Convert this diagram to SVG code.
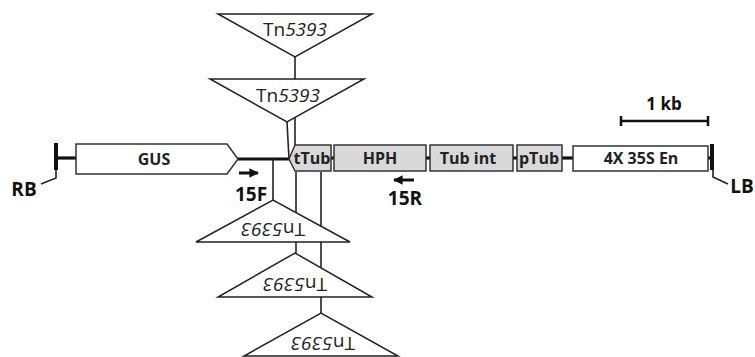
<svg xmlns="http://www.w3.org/2000/svg" width="755" height="357" viewBox="0 0 755 357">
<defs>
<style>
.ln{stroke:#222;stroke-width:1.6;fill:none}
.bb{stroke:#111;stroke-width:3.2;fill:none}
.box{stroke:#333;stroke-width:1.5;fill:#fff}
.gbox{stroke:#333;stroke-width:1.5;fill:#d9d9d9}
.tri{stroke:#222;stroke-width:1.5;fill:#fff}
.lab{font-family:"Open Sans","Noto Sans",sans-serif;font-weight:bold;font-size:16px;fill:#222;text-anchor:middle}
.big{font-family:"Open Sans","Noto Sans",sans-serif;font-weight:bold;font-size:19px;fill:#111;text-anchor:middle}
.tn{font-family:"Open Sans","Noto Sans",sans-serif;font-size:19px;fill:#222;text-anchor:middle}
</style>
<marker id="ah" viewBox="0 0 10 10" refX="9" refY="5" markerWidth="3.2" markerHeight="3.2" orient="auto" markerUnits="strokeWidth">
<path d="M0,0 L10,5 L0,10 z" fill="#111"/>
</marker>
</defs>

<g id="connectors">
<line class="bb" x1="57" y1="158" x2="76" y2="158"/>
<line class="bb" x1="238" y1="159" x2="289" y2="159"/>
<line class="bb" x1="330" y1="158" x2="334" y2="158"/>
<line class="bb" x1="426" y1="158" x2="430" y2="158"/>
<line class="bb" x1="513" y1="158" x2="517" y2="158"/>
<line class="bb" x1="562" y1="158" x2="573" y2="158"/>
<line class="bb" x1="708" y1="158" x2="712" y2="158"/>
<polyline class="ln" points="56,169 56,178 41,184"/>
<polyline class="ln" points="713,169 713,177 728,184"/>
<line class="ln" x1="295" y1="57" x2="295" y2="145"/>
<line class="ln" x1="287" y1="122" x2="289" y2="159"/>
<line class="ln" x1="273" y1="159" x2="273" y2="200"/>
<line class="ln" x1="296" y1="172" x2="296" y2="253"/>
<line class="ln" x1="321" y1="172" x2="321" y2="313"/>
<line stroke="#111" stroke-width="3" x1="239" y1="173" x2="258" y2="173" marker-end="url(#ah)"/>
<line stroke="#111" stroke-width="3" x1="414" y1="180" x2="394" y2="180" marker-end="url(#ah)"/>
</g>

<g id="RB">
<line stroke="#111" stroke-width="4" x1="56" y1="143" x2="56" y2="170"/>
<text class="big" x="24" y="196">RB</text>
</g>
<g id="LB">
<line stroke="#111" stroke-width="4" x1="712" y1="144" x2="712" y2="170"/>
<text class="big" x="742" y="193">LB</text>
</g>

<g id="GUS">
<polygon class="box" points="76,144 227,144 238,159 227,174 76,174"/>
<text class="lab" x="154" y="165">GUS</text>
</g>
<g id="tTub">
<polygon class="gbox" points="295,145 331,145 331,171 295,171 289,159"/>
<text class="lab" x="312" y="164">tTub</text>
</g>
<g id="HPH">
<rect class="gbox" x="334" y="145" width="92" height="26"/>
<text class="lab" x="380" y="164">HPH</text>
</g>
<g id="Tubint">
<rect class="gbox" x="430" y="145" width="83" height="26"/>
<text class="lab" x="468" y="164">Tub int</text>
</g>
<g id="pTub">
<rect class="gbox" x="517" y="145" width="45" height="26"/>
<text class="lab" x="539" y="164">pTub</text>
</g>
<g id="En35S">
<rect class="box" x="573" y="146" width="135" height="25"/>
<text class="lab" x="641" y="164">4X 35S En</text>
</g>

<g id="scalebar">
<line stroke="#111" stroke-width="2.5" x1="621" y1="121" x2="708" y2="121"/>
<line stroke="#111" stroke-width="2.5" x1="621" y1="116" x2="621" y2="126"/>
<line stroke="#111" stroke-width="2.5" x1="708" y1="116" x2="708" y2="126"/>
<text class="big" x="664" y="110" style="font-size:17px">1 kb</text>
</g>

<g id="primer15F">
<text class="big" x="251" y="201">15F</text>
</g>
<g id="primer15R">
<text class="big" x="405" y="205">15R</text>
</g>

<g id="Tn_top1">
<polygon class="tri" points="218,14 372,14 295,57"/>
<text class="tn" x="295" y="36">Tn<tspan font-style="italic">5393</tspan></text>
</g>
<g id="Tn_top2">
<polygon class="tri" points="210,79 364,79 287,122"/>
<text class="tn" x="288" y="102">Tn<tspan font-style="italic">5393</tspan></text>
</g>
<g id="Tn_bot1">
<polygon class="tri" points="196,242 350,242 273,200"/>
<text class="tn" transform="rotate(180 273 230)" x="273" y="237">Tn<tspan font-style="italic">5393</tspan></text>
</g>
<g id="Tn_bot2">
<polygon class="tri" points="218,297 372,297 295,253"/>
<text class="tn" transform="rotate(180 295 285)" x="295" y="292">Tn<tspan font-style="italic">5393</tspan></text>
</g>
<g id="Tn_bot3">
<polygon class="tri" points="244,356 398,356 321,313"/>
<text class="tn" transform="rotate(180 323 344)" x="323" y="351">Tn<tspan font-style="italic">5393</tspan></text>
</g>
</svg>
